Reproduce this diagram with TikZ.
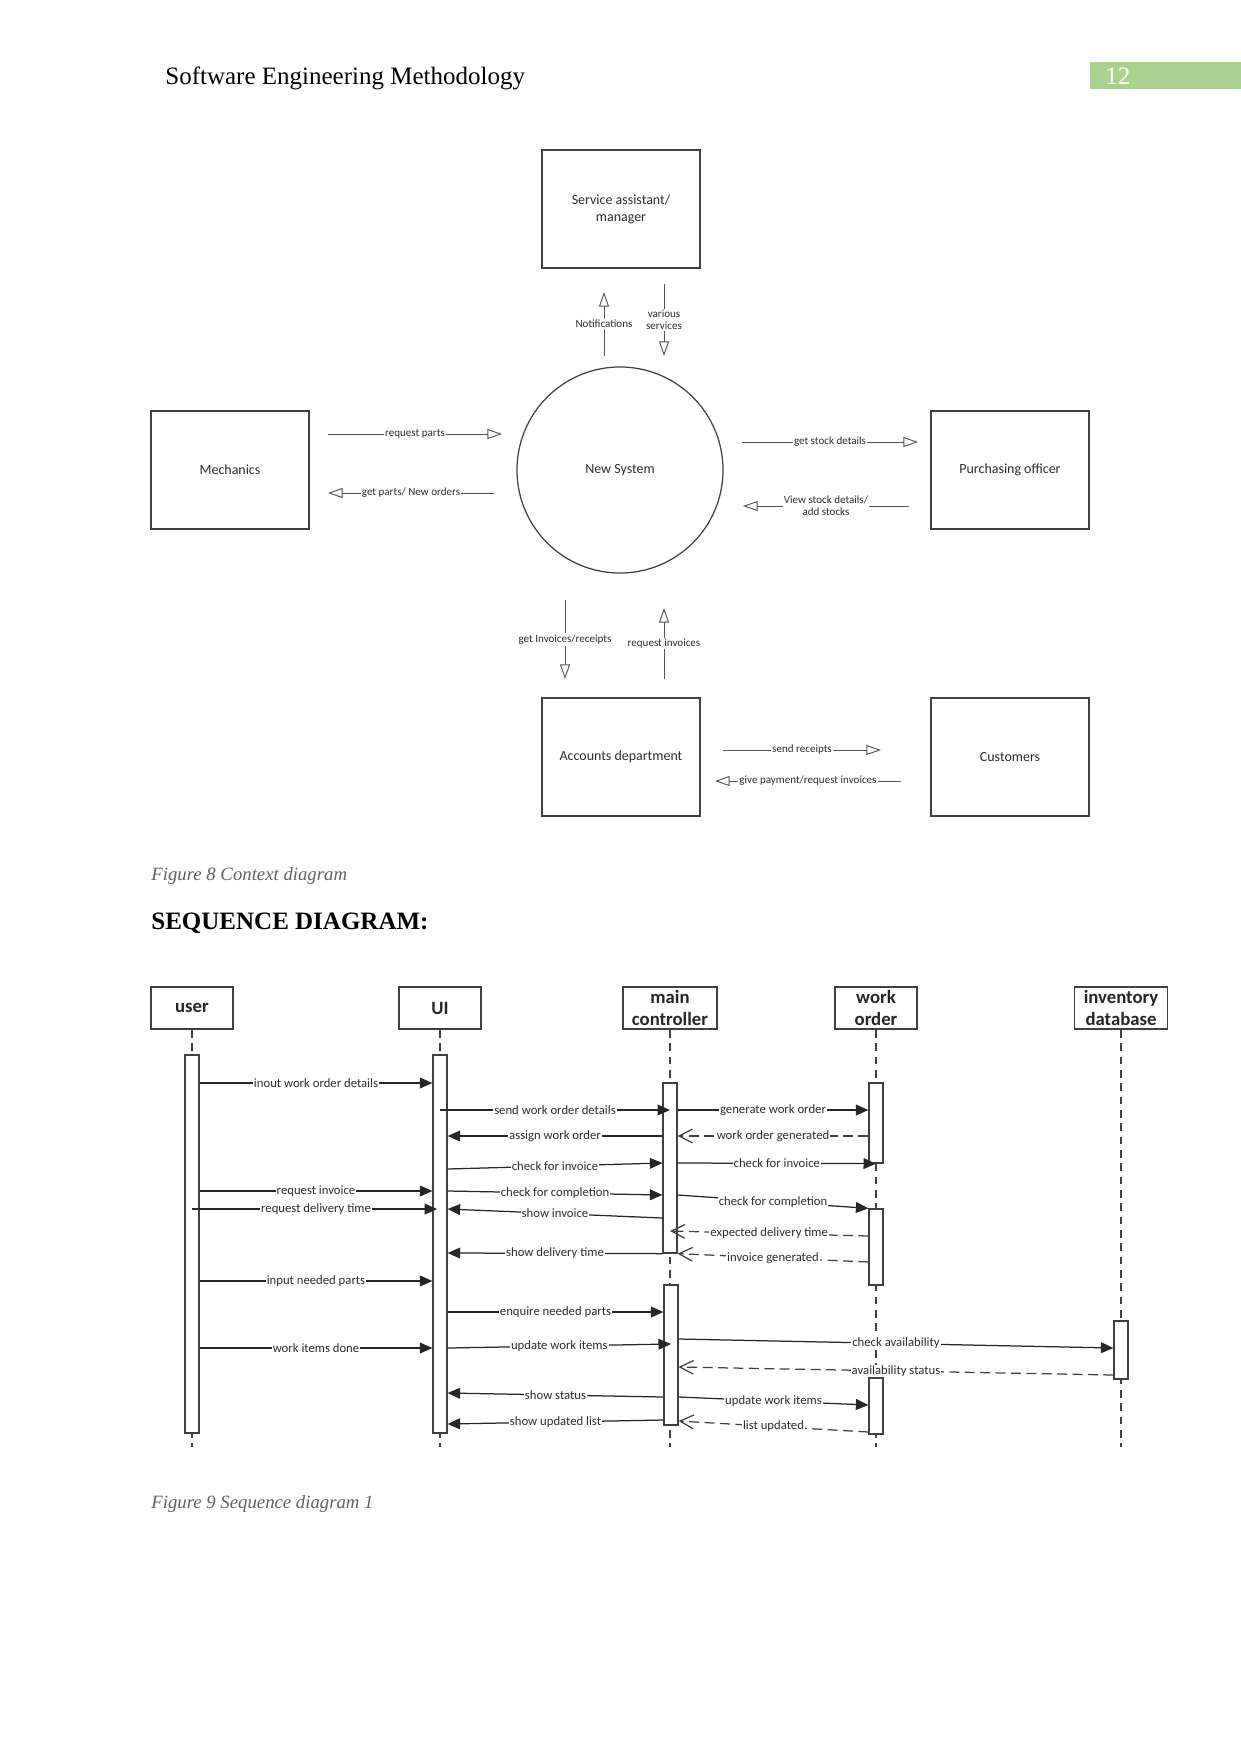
\documentclass[tikz,border=0pt]{standalone}
\usepackage{fontspec}
\setmainfont{Liberation Serif}
\newfontfamily\visiofont{Carlito}
\usetikzlibrary{arrows.meta, positioning}
\definecolor{inkgray}{RGB}{64,64,64}
\definecolor{textgray}{RGB}{45,45,45}
\definecolor{capgray}{RGB}{96,96,96}
\definecolor{pagegreen}{RGB}{169,209,142}

\begin{document}
\begin{tikzpicture}[x=0.48pt, y=-0.48pt,
  ctxbox/.style={draw=inkgray, line width=0.6pt, minimum width=75.8pt, minimum height=56.6pt, inner sep=0pt, align=center, text=textgray, font=\visiofont\fontsize{6.7}{8.2}\selectfont},
  flow/.style={draw=inkgray!90, line width=0.45pt, -{Triangle[open, length=7pt, width=4.8pt]}},
  ctxlbl/.style={fill=white, inner sep=0.6pt, align=center, text=textgray, font=\visiofont\fontsize{5.3}{5.8}\selectfont},
  headbox/.style={draw=inkgray, line width=0.8pt, fill=white, minimum width=39.4pt, minimum height=20.2pt, inner sep=1pt, align=center, text=black!85, font=\visiofont\bfseries\fontsize{9}{10.6}\selectfont},
  actbar/.style={draw=inkgray, line width=0.6pt, fill=white, minimum width=6.7pt, inner sep=0pt},
  lifeline/.style={draw=inkgray, line width=0.6pt, dash pattern=on 3.8pt off 2.6pt},
  msg/.style={draw=black!85, line width=0.6pt, -{Triangle[length=6pt, width=5.2pt]}},
  reply/.style={draw=inkgray, line width=0.6pt, dash pattern=on 4.8pt off 2.6pt, -{Straight Barb[length=6.5pt, width=6.6pt]}},
  lbl/.style={fill=white, inner sep=0.5pt, text=textgray, font=\visiofont\fontsize{6.1}{7}\selectfont},
  caption/.style={anchor=base west, inner sep=0pt, text=capgray, font=\itshape\fontsize{9}{11}\selectfont}]

  \useasboundingbox (0,0) rectangle (1241,1754);

  % page header
  \fill[pagegreen] (1090,62) rectangle (1241,89);
  \node[anchor=base west, inner sep=0pt, font=\fontsize{12}{14}\selectfont] (runhead) at (165,84) {Software Engineering Methodology};
  \node[anchor=base west, inner sep=0pt, text=white, font=\fontsize{12}{14}\selectfont] (pgno) at (1105,84) {12};

  % context diagram
  \node[ctxbox] (svc) at (621,209) {Service assistant/\\manager};
  \node[ctxbox] (mech) at (230,470) {Mechanics};
  \node[circle, draw=inkgray, line width=0.6pt, minimum size=98.9pt, text=textgray, font=\visiofont\fontsize{6.7}{8.2}\selectfont] (sys) at (620,470) {New System};
  \node[ctxbox] (purch) at (1010,470) {Purchasing officer};
  \node[ctxbox] (acct) at (621,757) {Accounts department};
  \node[ctxbox] (cust) at (1010,757) {Customers};

  \coordinate (notifA) at (604,356);  \coordinate (notifB) at (604,292);
  \coordinate (servA) at (664,284);   \coordinate (servB) at (664,356);
  \coordinate (rpartA) at (328,434);  \coordinate (rpartB) at (502,434);
  \coordinate (gpartA) at (494,493);  \coordinate (gpartB) at (328,493);
  \coordinate (gstkA) at (742,442);   \coordinate (gstkB) at (918,442);
  \coordinate (vstkA) at (909,506);   \coordinate (vstkB) at (743,506);
  \coordinate (ginvA) at (565,600);   \coordinate (ginvB) at (565,679);
  \coordinate (rinvA) at (664,679);   \coordinate (rinvB) at (664,608);
  \coordinate (srecA) at (723,750);   \coordinate (srecB) at (881,750);
  \coordinate (gpayA) at (901,781);   \coordinate (gpayB) at (715,781);

  \draw[flow] (notifA) -- (notifB) node[ctxlbl, midway] {Notifications};
  \draw[flow] (servA) -- (servB) node[ctxlbl, midway] {various\\services};
  \draw[flow] (rpartA) -- (rpartB) node[ctxlbl, midway] {request parts};
  \draw[flow] (gpartA) -- (gpartB) node[ctxlbl, midway] {get parts/ New orders};
  \draw[flow] (gstkA) -- (gstkB) node[ctxlbl, midway] {get stock details};
  \draw[flow] (vstkA) -- (vstkB) node[ctxlbl, midway] {View stock details/\\add stocks};
  \draw[flow] (ginvA) -- (ginvB) node[ctxlbl, midway] {get Invoices/receipts};
  \draw[flow] (rinvA) -- (rinvB) node[ctxlbl, midway] {request invoices};
  \draw[flow] (srecA) -- (srecB) node[ctxlbl, midway] {send receipts};
  \draw[flow] (gpayA) -- (gpayB) node[ctxlbl, midway] {give payment/request invoices};

  \node[caption] (cap8) at (151,880) {Figure 8 Context diagram};
  \node[anchor=base west, inner sep=0pt, font=\bfseries\fontsize{12}{14}\selectfont] (seqhead) at (151,929) {SEQUENCE DIAGRAM:};

  % sequence diagram: heads and lifelines
  \node[headbox] (user) at (192,1008) {user};
  \node[headbox] (ui) at (440,1008) {UI};
  \node[headbox, minimum width=45pt] (mctrl) at (670,1008) {main\\controller};
  \node[headbox] (word) at (876,1008) {work\\order};
  \node[headbox, minimum width=44.5pt] (invdb) at (1121,1008) {inventory\\database};

  \draw[lifeline] (user.south) -- (user.south |- 0,1447);
  \draw[lifeline] (ui.south) -- (ui.south |- 0,1447);
  \draw[lifeline] (mctrl.south) -- (mctrl.south |- 0,1447);
  \draw[lifeline] (word.south) -- (word.south |- 0,1447);
  \draw[lifeline] (invdb.south) -- (invdb.south |- 0,1447);

  % activation bars
  \node[actbar, minimum height=181.4pt] (uact) at (192,1244) {};
  \node[actbar, minimum height=181.4pt] (uiact) at (440,1244) {};
  \node[actbar, minimum height=81.6pt] (mc1) at (670,1168) {};
  \node[actbar, minimum height=67.2pt] (mc2) at (671,1355) {};
  \node[actbar, minimum height=38.4pt] (wo1) at (876,1123) {};
  \node[actbar, minimum height=36.5pt] (wo2) at (876,1247) {};
  \node[actbar, minimum height=26.9pt] (wo3) at (876,1406) {};
  \node[actbar, minimum height=27.8pt] (inv1) at (1121,1350) {};

  % messages
  \draw[msg] (uact.east |- 0,1083) -- (uiact.west |- 0,1083) node[lbl, midway] {inout work order details};
  \draw[msg] (uiact.center |- 0,1110) -- (mc1.center |- 0,1110) node[lbl, midway] {send work order details};
  \draw[msg] (mc1.east |- 0,1110) -- (wo1.west |- 0,1110) node[lbl, midway] {generate work order};
  \draw[reply] (wo1.west |- 0,1136) -- (mc1.east |- 0,1136) node[lbl, midway] {work order generated};
  \draw[msg] (mc1.west |- 0,1136) -- (uiact.east |- 0,1136) node[lbl, midway] {assign work order};
  \draw[msg] (uiact.east |- 0,1169) -- (mc1.west |- 0,1163) node[lbl, midway] {check for invoice};
  \draw[msg] (mc1.east |- 0,1163) -- (wo1.south) node[lbl, midway] {check for invoice};
  \draw[msg] (uact.east |- 0,1191) -- (uiact.west |- 0,1191) node[lbl, midway] {request invoice};
  \draw[msg] (uiact.east |- 0,1191) -- (mc1.west |- 0,1195) node[lbl, midway] {check for completion};
  \draw[msg] (mc1.east |- 0,1195) -- (wo2.north west) node[lbl, midway] {check for completion};
  \draw[msg, shorten >=1.4pt] (uact.center |- 0,1209) -- (uiact.center |- 0,1209) node[lbl, midway] {request delivery time};
  \draw[msg] (mc1.west |- 0,1218) -- (uiact.east |- 0,1209) node[lbl, midway] {show invoice};
  \draw[reply] (wo2.west |- 0,1236) -- (mc1.center |- 0,1231) node[lbl, midway] {expected delivery time};
  \draw[msg] (mc1.south west) -- (uiact.east |- 0,1253) node[lbl, midway] {show delivery time};
  \draw[reply] (wo2.west |- 0,1262) -- (mc1.south east) node[lbl, midway] {invoice generated};
  \draw[msg] (uact.east |- 0,1281) -- (uiact.west |- 0,1281) node[lbl, midway] {input needed parts};
  \draw[msg] (uiact.east |- 0,1312) -- (mc2.west |- 0,1312) node[lbl, midway] {enquire needed parts};
  \draw[msg] (mc2.east |- 0,1339) -- (inv1.west |- 0,1348) node[lbl, midway] {check availability};
  \draw[msg] (uact.east |- 0,1348) -- (uiact.west |- 0,1348) node[lbl, midway] {work items done};
  \draw[msg] (uiact.east |- 0,1348) -- (mc2.center |- 0,1344) node[lbl, midway] {update work items};
  \draw[reply] (inv1.west |- 0,1375) -- (mc2.east |- 0,1367) node[lbl, midway] {availability status};
  \draw[msg] (mc2.west |- 0,1397) -- (uiact.east |- 0,1393) node[lbl, midway] {show status};
  \draw[msg] (mc2.east |- 0,1397) -- (wo3.west |- 0,1405) node[lbl, midway] {update work items};
  \draw[msg] (mc2.west |- 0,1420) -- (uiact.east |- 0,1424) node[lbl, midway] {show updated list};
  \draw[reply] (wo3.west |- 0,1432) -- (mc2.east |- 0,1421) node[lbl, midway] {list updated};

  \node[caption] (cap9) at (151,1508) {Figure 9 Sequence diagram 1};
\end{tikzpicture}
\end{document}
